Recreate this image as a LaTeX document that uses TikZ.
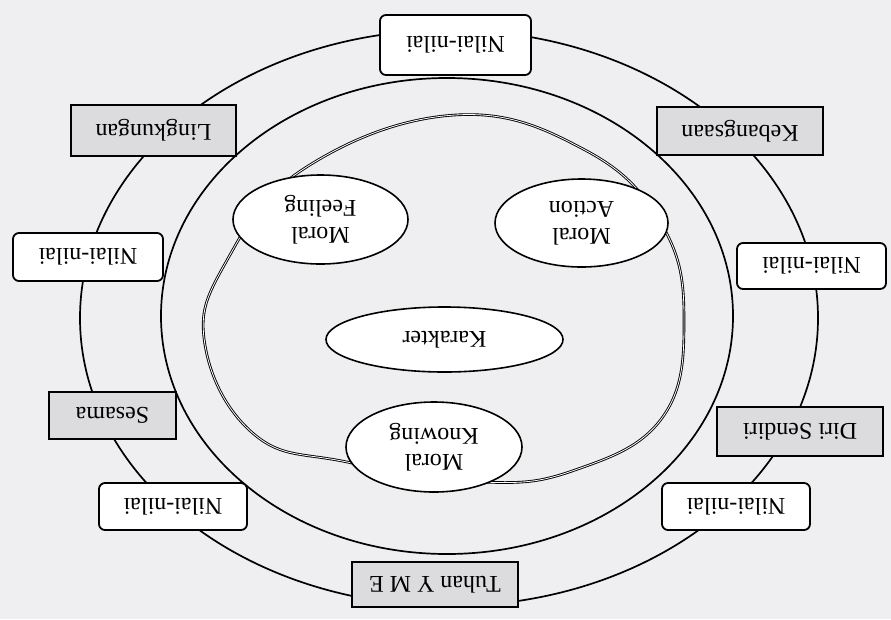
\documentclass[tikz,border=0pt]{standalone}
\usepackage{fontspec}
\setmainfont{Liberation Serif}
\usetikzlibrary{shapes.geometric}
\definecolor{paper}{HTML}{EFEFF2}
\definecolor{boxgrey}{HTML}{DCDCDE}
\begin{document}
\begin{tikzpicture}[x=1pt,y=-1pt,
  lbl/.style={font=\fontsize{24}{26.5}\selectfont, rotate=180, align=center, inner sep=0pt},
  valbox/.style={lbl, draw=black, line width=1.8pt, fill=white, rounded corners=6pt},
  greybox/.style={lbl, draw=black, line width=1.8pt, fill=boxgrey},
  moral/.style={lbl, ellipse, draw=black, line width=1.6pt, fill=white}]
  % page
  \fill[paper] (0,0) rectangle (891,619);
  \useasboundingbox (0,0) rectangle (891,619);

  % the two rings carrying the boxes
  \draw[line width=1.7pt] (449,318) ellipse [x radius=369, y radius=288];
  \draw[line width=1.7pt] (447,316) ellipse [x radius=286, y radius=238];

  % double-lined loop through the three moral components
  \draw[draw=black, double=white, double distance=0.8pt, line width=0.9pt]
    plot[smooth cycle, tension=0.7] coordinates {
      (455,115) (585,150) (662,225) (684,320) (662,418) (575,470)
      (480,482) (347,462) (255,435) (205,345) (226,262) (305,168)};

  % moral components and centre
  \node[moral, minimum width=175pt, minimum height=89pt] (feel) at (320.5,219.5) {Moral\\Feeling};
  \node[moral, minimum width=173pt, minimum height=88pt] (act) at (581.5,223) {Moral\\Action};
  \node[moral, minimum width=237pt, minimum height=65pt] (kar) at (444.5,339.5) {Karakter};
  \node[moral, minimum width=176pt, minimum height=90pt] (know) at (434,447) {Moral\\Knowing};

  % value boxes on the outer ring
  \node[valbox, minimum width=151pt, minimum height=60pt] (n1) at (455.5,45) {Nilai-nilai};
  \node[greybox, minimum width=165pt, minimum height=51pt] (ling) at (153.5,130.5) {Lingkungan};
  \node[greybox, minimum width=166pt, minimum height=48pt] (keb) at (740,131) {Kebangsaan};
  \node[valbox, minimum width=150pt, minimum height=48pt] (n2) at (88,257) {Nilai-nilai};
  \node[valbox, minimum width=149pt, minimum height=46pt] (n3) at (811.5,266) {Nilai-nilai};
  \node[greybox, minimum width=127pt, minimum height=47pt] (ses) at (112.5,415.5) {Sesama};
  \node[greybox, minimum width=166pt, minimum height=49pt] (diri) at (800,431.5) {Diri Sendiri};
  \node[valbox, minimum width=148pt, minimum height=47pt] (n4) at (173,506.5) {Nilai-nilai};
  \node[valbox, minimum width=148pt, minimum height=47pt] (n5) at (736,506.5) {Nilai-nilai};
  \node[greybox, minimum width=166pt, minimum height=45pt] (tuhan) at (435,584.5) {Tuhan Y M E};
\end{tikzpicture}
\end{document}
